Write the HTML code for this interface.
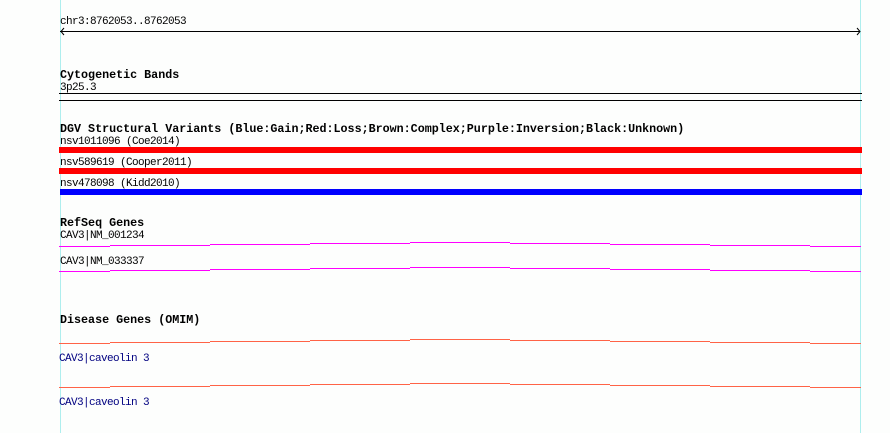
<!DOCTYPE html>
<html><head><meta charset="utf-8"><style>
html,body{margin:0;padding:0;background:#fdfefd;}
svg{display:block}
text{font-family:"Liberation Mono","DejaVu Sans Mono",monospace;font-size:11px;letter-spacing:-0.6px;fill:#000}
.b{font-weight:bold;font-size:11.7px;letter-spacing:0}
.n{fill:#000080}
</style></head><body>
<svg width="890" height="433" xmlns="http://www.w3.org/2000/svg">
<rect width="890" height="433" fill="#fdfefd"/>
<line x1="60.5" y1="0" x2="60.5" y2="433" stroke="#aeeeee" stroke-width="1"/>
<line x1="860.5" y1="0" x2="860.5" y2="433" stroke="#aeeeee" stroke-width="1"/>
<text x="60" y="24">chr3:8762053..8762053</text>
<line x1="60" y1="31.5" x2="860" y2="31.5" stroke="#000"/>
<polyline points="64,28 61,31.5 64,35" fill="none" stroke="#000"/>
<polyline points="857,28 860,31.5 857,35" fill="none" stroke="#000"/>
<text class="b" x="60" y="78">Cytogenetic Bands</text>
<text x="60" y="90">3p25.3</text>
<line x1="59" y1="93.5" x2="862" y2="93.5" stroke="#000"/>
<line x1="59" y1="100.5" x2="862" y2="100.5" stroke="#000"/>
<text class="b" x="60" y="132">DGV Structural Variants (Blue:Gain;Red:Loss;Brown:Complex;Purple:Inversion;Black:Unknown)</text>
<text x="60" y="144">nsv1011096 (Coe2014)</text>
<rect x="59" y="147" width="803" height="6" fill="#ff0000"/>
<text x="60" y="165">nsv589619 (Cooper2011)</text>
<rect x="59" y="168" width="803" height="6" fill="#ff0000"/>
<text x="60" y="186">nsv478098 (Kidd2010)</text>
<rect x="60" y="189" width="802" height="6" fill="#0000ff"/>
<text class="b" x="60" y="226">RefSeq Genes</text>
<text x="60" y="238">CAV3|NM_001234</text>
<text x="60" y="264">CAV3|NM_033337</text>
<text class="b" x="60" y="323">Disease Genes (OMIM)</text>
<text class="n" x="59" y="361">CAV3|caveolin 3</text>
<text class="n" x="59" y="405">CAV3|caveolin 3</text>
<g id="steps"></g>
</svg>
<script>
var g=document.getElementById('steps');
var segs=[[59,110,4],[110,210,3],[210,310,2],[310,410,1],[410,510,0],[510,610,1],[610,710,2],[710,810,3],[810,861,4]];
[[242.5,'#ff00ff'],[267.5,'#ff00ff'],[339.5,'#ff6347'],[383.5,'#ff6347']].forEach(function(t){
segs.forEach(function(s){
var l=document.createElementNS('http://www.w3.org/2000/svg','line');
l.setAttribute('x1',s[0]);l.setAttribute('x2',s[1]);
l.setAttribute('y1',t[0]+s[2]);l.setAttribute('y2',t[0]+s[2]);
l.setAttribute('stroke',t[1]);g.appendChild(l);});});
</script>
</body></html>
